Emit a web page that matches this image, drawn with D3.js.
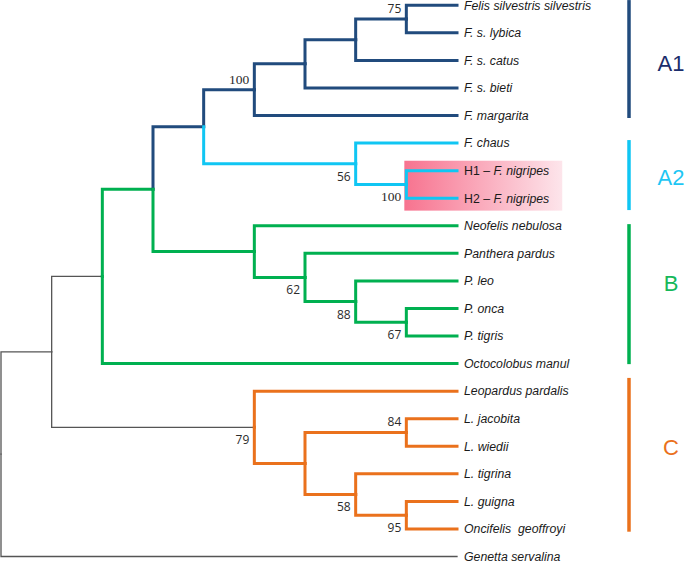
<!DOCTYPE html>
<html>
<head>
<meta charset="utf-8">
<script src="https://cdn.jsdelivr.net/npm/d3@7"></script>
<style>
  html, body { margin: 0; padding: 0; background: #fff; }
  svg { display: block; }
</style>
</head>
<body>
<svg id="chart" width="685" height="561"></svg>
<script>
// ---------------- DATA ----------------
const tips = ["Felis silvestris silvestris", "F. s. lybica", "F. s. catus", "F. s. bieti", "F. margarita",
  "F. chaus", "H1 – F. nigripes", "H2 – F. nigripes",
  "Neofelis nebulosa", "Panthera pardus", "P. leo", "P. onca", "P. tigris", "Octocolobus manul",
  "Leopardus pardalis", "L. jacobita", "L. wiedii", "L. tigrina", "L. guigna", "Oncifelis  geoffroyi",
  "Genetta servalina"];
const tipClades = ["A1", "A1", "A1", "A1", "A1", "A2", "A2", "A2",
  "B", "B", "B", "B", "B", "B", "C", "C", "C", "C", "C", "C", "out"];
// Topology (leaf indices), bootstrap support ("^" = printed above branch), "#" = branch colour group
const newick = "(((((((((0,1)^75,2),3),4)^100,(5,(6,7)100)56)#A1,(8,(9,(10,(11,12)67)88)62))#B,13)#out,(14,((15,16)^84,(17,(18,19)95)58))79#out)#out,20)#out;";
const highlightTips = [6, 7];
const cladeNames = ["A1", "A2", "B", "C"];
const cladeBarFrom = [-0.19, 4.89, 7.94, 13.52];   // in leaf-index units
const cladeBarTo = [4.09, 7.43, 13.02, 19.1];
const cladeLabelAt = [2.09, 6.23, 10.08, 16.03];

// ---------------- STYLE ----------------
const W = 685, H = 561;
const colors = { A1: "#214b7d", A2: "#10c6f3", B: "#00b050", C: "#ea711c", out: "#555555" };
const labelColors = { A1: "#1b2d6b", A2: "#1ec6f4", B: "#16b85a", C: "#ea711c" };
const leafEnd = 457, rootX = 1, topY = 5.3, bottomY = 556.5;

// ---------------- PARSE ----------------
function parseNewick(s) {
  let i = 0;
  function node() {
    const n = {};
    if (s[i] === "(") {
      i++;
      n.children = [node()];
      while (s[i] === ",") { i++; n.children.push(node()); }
      i++; // ')'
    }
    let lab = "";
    while (i < s.length && !",);".includes(s[i])) lab += s[i++];
    if (n.children) {
      const [sup, grp] = lab.split("#");
      n.above = sup.startsWith("^");
      n.support = sup.replace("^", "");
      n.group = grp || null;
    } else {
      n.leaf = +lab;
      n.name = tips[n.leaf];
      n.group = tipClades[n.leaf];
    }
    return n;
  }
  return node();
}

const root = d3.hierarchy(parseNewick(newick));
root.eachAfter(d => {
  if (!d.data.group) {
    const gs = new Set(d.leaves().map(l => l.data.group));
    d.data.group = gs.size === 1 ? [...gs][0] : "out";
  }
});

const nLeaves = tips.length;
const yLeaf = d3.scaleLinear().domain([0, nLeaves - 1]).range([topY, bottomY]);
const step = yLeaf(1) - yLeaf(0);

// cluster pads half a step on each side, so give it n steps of room
d3.cluster().size([step * nLeaves, leafEnd - rootX]).separation(() => 1)(root);
const px = d => d.y + rootX;              // horizontal
const py = d => d.x + topY - step / 2;    // vertical

const svg = d3.select("#chart");
svg.append("rect").attr("width", W).attr("height", H).attr("fill", "#fff");

// ---------------- HIGHLIGHT ----------------
const defs = svg.append("defs");
const grad = defs.append("linearGradient").attr("id", "hl").attr("x1", "0").attr("x2", "1").attr("y1", "0").attr("y2", "0");
grad.append("stop").attr("offset", "0").attr("stop-color", "#f7738f");
grad.append("stop").attr("offset", "1").attr("stop-color", "#fde5eb");
const hlRect = svg.append("rect").attr("fill", "url(#hl)");

// ---------------- BRANCHES ----------------
const links = root.descendants().filter(d => d.parent);
links.sort((a, b) => (a.data.group === "out" ? 0 : 1) - (b.data.group === "out" ? 0 : 1));
svg.append("g").selectAll("path").data(links).join("path")
  .attr("d", d => `M${px(d.parent)},${py(d.parent)}V${py(d)}H${px(d)}`)
  .attr("fill", "none")
  .attr("stroke", d => colors[d.data.group])
  .attr("stroke-width", d => d.data.group === "out" ? 1.3 : 3)
  .attr("stroke-linejoin", "miter")
  .attr("stroke-linecap", "square");

// ---------------- LEAF LABELS ----------------
const leafG = svg.append("g")
  .style("font-family", "'Liberation Sans', Arial, sans-serif")
  .style("font-size", "12.3px")
  .attr("fill", "#1a1a1a");
const leafText = leafG.selectAll("text").data(root.leaves()).join("text")
  .attr("x", d => px(d) + 7)
  .attr("y", d => py(d))
  .attr("dy", "0.35em")
  .style("white-space", "pre");
leafText.each(function (d) {
  const t = d3.select(this);
  const m = d.data.name.match(/^(H\d – )(.*)$/);
  if (m) {
    t.append("tspan").text(m[1]);
    t.append("tspan").style("font-style", "italic").text(m[2]);
  } else {
    t.style("font-style", "italic").text(d.data.name);
  }
});

// highlight rect geometry from the tips
const hlNodes = root.leaves().filter(d => highlightTips.includes(d.data.leaf));
const hlParent = hlNodes[0].parent;
let hlRight = 0;
leafText.filter(d => highlightTips.includes(d.data.leaf)).each(function () {
  const b = this.getBBox(); hlRight = Math.max(hlRight, b.x + b.width);
});
hlRect.attr("x", px(hlParent) - 2)
  .attr("y", yLeaf(highlightTips[0]) - 0.36 * step)
  .attr("width", hlRight + 13 - (px(hlParent) - 2))
  .attr("height", yLeaf(highlightTips[1]) + 0.45 * step - (yLeaf(highlightTips[0]) - 0.36 * step));

// ---------------- SUPPORT VALUES ----------------
const supNodes = root.descendants().filter(d => d.children && d.data.support !== "");
svg.append("g").selectAll("text").data(supNodes).join("text")
  .attr("x", d => px(d) - 5)
  .attr("y", d => d.data.above ? py(d) - 6 : py(d) + 17)
  .attr("text-anchor", "end")
  .attr("fill", "#2b2b2b")
  .style("font-family", d => d.data.support === "100" ? "'Liberation Serif', 'Times New Roman', serif" : "'Open Sans', 'Liberation Sans', sans-serif")
  .style("font-size", d => d.data.support === "100" ? "13.5px" : "12px")
  .text(d => d.data.support);

// ---------------- CLADE BARS ----------------
const barX = 629, labelX = 671;
const cg = svg.append("g");
cladeNames.forEach((c, i) => {
  cg.append("line")
    .attr("x1", barX).attr("x2", barX)
    .attr("y1", yLeaf(cladeBarFrom[i])).attr("y2", yLeaf(cladeBarTo[i]))
    .attr("stroke", colors[c]).attr("stroke-width", 3.5);
  cg.append("text")
    .attr("x", labelX).attr("y", yLeaf(cladeLabelAt[i]))
    .attr("dy", "0.36em")
    .attr("text-anchor", "middle")
    .attr("fill", labelColors[c])
    .style("font-family", "'Liberation Sans', Arial, sans-serif")
    .style("font-size", "22px")
    .text(c);
});
</script>
</body>
</html>
